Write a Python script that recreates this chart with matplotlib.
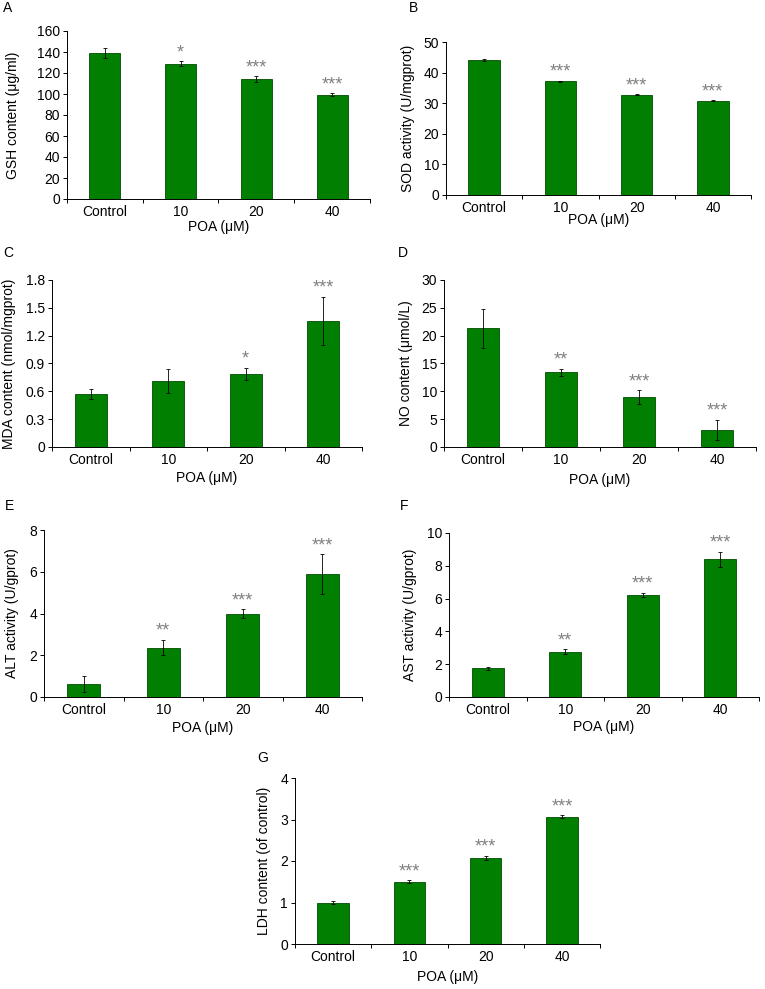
import matplotlib
matplotlib.use("Agg")
import matplotlib.pyplot as plt

plt.rcParams['font.family'] = ['Liberation Sans', 'DejaVu Sans']
plt.rcParams['font.size'] = 10

# groups on the x axis
groups = ["Control", "10", "20", "40"]

# panel data: mean, error, significance marks
gsh = [139, 129, 114, 99.5]
gsh_err = [4.5, 2, 3, 1]
gsh_sig = ["", "*", "***", "***"]

sod = [44.2, 37.2, 32.8, 30.8]
sod_err = [0.3, 0.2, 0.2, 0.2]
sod_sig = ["", "***", "***", "***"]

mda = [0.57, 0.71, 0.79, 1.36]
mda_err = [0.05, 0.13, 0.065, 0.26]
mda_sig = ["", "", "*", "***"]

no = [21.3, 13.4, 9.0, 3.1]
no_err = [3.5, 0.7, 1.2, 1.8]
no_sig = ["", "**", "***", "***"]

alt = [0.62, 2.37, 4.0, 5.88]
alt_err = [0.37, 0.37, 0.2, 0.95]
alt_sig = ["", "**", "***", "***"]

ast = [1.75, 2.75, 6.22, 8.4]
ast_err = [0.1, 0.15, 0.15, 0.45]
ast_sig = ["", "**", "***", "***"]

ldh = [1.0, 1.5, 2.08, 3.07]
ldh_err = [0.04, 0.04, 0.05, 0.03]
ldh_sig = ["", "***", "***", "***"]

W, H = 765, 989

# letter, values, errors, marks, ylabel, ymax, ystep,
# axes box in pixels (l, r, top, bottom), letter pos, ylabel x, xlabel y
panels = [
    ("A", gsh, gsh_err, gsh_sig, "GSH content (μg/ml)", 160, 20, (67, 370, 31, 199), (3, 15), 13, 227),
    ("B", sod, sod_err, sod_sig, "SOD activity (U/mgprot)", 50, 10, (446, 751, 42, 195), (409, 15), 408, 220),
    ("C", mda, mda_err, mda_sig, "MDA content (nmol/mgprot)", 1.8, 0.3, (52, 362, 280, 447), (3, 260), 9, 478),
    ("D", no, no_err, no_sig, "NO content (μmol/L)", 30, 5, (444, 756, 280, 447), (398, 260), 406, 480),
    ("E", alt, alt_err, alt_sig, "ALT activity (U/gprot)", 8, 2, (44, 362, 530, 697), (5, 513), 12, 728),
    ("F", ast, ast_err, ast_sig, "AST activity (U/gprot)", 10, 2, (449, 759, 533, 697), (400, 513), 410, 727),
    ("G", ldh, ldh_err, ldh_sig, "LDH content (of control)", 4, 1, (295, 600, 778, 944), (257, 765), 264, 977),
]

fig = plt.figure(figsize=(W / 100, H / 100), dpi=100)

for letter, vals, errs, sig, ylab, ymax, ystep, box, lpos, ylx, xly in panels:
    l, r, t, b = box
    ax = fig.add_axes([l / W, 1 - b / H, (r - l) / W, (b - t) / H])
    x = list(range(len(groups)))
    ax.bar(x, vals, width=0.41, color="#007f00", edgecolor="#004d00", linewidth=0.6,
           yerr=errs, error_kw=dict(ecolor="black", elinewidth=0.6, capsize=1.5, capthick=0.6))
    # significance stars above the error bars
    for xi, v, e, s in zip(x, vals, errs, sig):
        if s:
            ax.annotate(s, (xi, v + e), xytext=(0, 0), textcoords="offset points",
                        ha="center", va="bottom", color="#808080", fontsize=13)
    ax.set_xlim(-0.5, len(groups) - 0.5)
    ax.set_ylim(0, ymax)
    n = int(round(ymax / ystep))
    yt = [round(i * ystep, 2) for i in range(n + 1)]
    ax.set_yticks(yt)
    ax.set_yticklabels([("%g" % v) for v in yt])
    ax.set_xticks([i - 0.5 for i in range(len(groups) + 1)])
    ax.set_xticklabels([])
    ax.set_xticks(x, minor=True)
    ax.set_xticklabels(groups, minor=True)
    ax.tick_params(axis="x", which="minor", length=0, pad=4)
    ax.tick_params(axis="x", which="major", length=3, width=0.7, direction="out")
    ax.tick_params(axis="y", length=3, width=0.7, direction="out", pad=2)
    ax.spines["top"].set_visible(False)
    ax.spines["right"].set_visible(False)
    ax.spines["left"].set_linewidth(0.7)
    ax.spines["bottom"].set_linewidth(0.7)
    ax.set_xlabel("POA (μM)")
    ax.set_ylabel(ylab)
    ax.xaxis.set_label_coords(0.5, -(xly - b) / (b - t))
    ax.xaxis.label.set_va("center")
    ax.yaxis.set_label_coords(-(l - ylx) / (r - l), 0.5)
    ax.yaxis.label.set_va("center")
    fig.text(lpos[0] / W, 1 - lpos[1] / H, letter, fontsize=10, ha="left", va="bottom")

fig.savefig("out.png", dpi=100)
